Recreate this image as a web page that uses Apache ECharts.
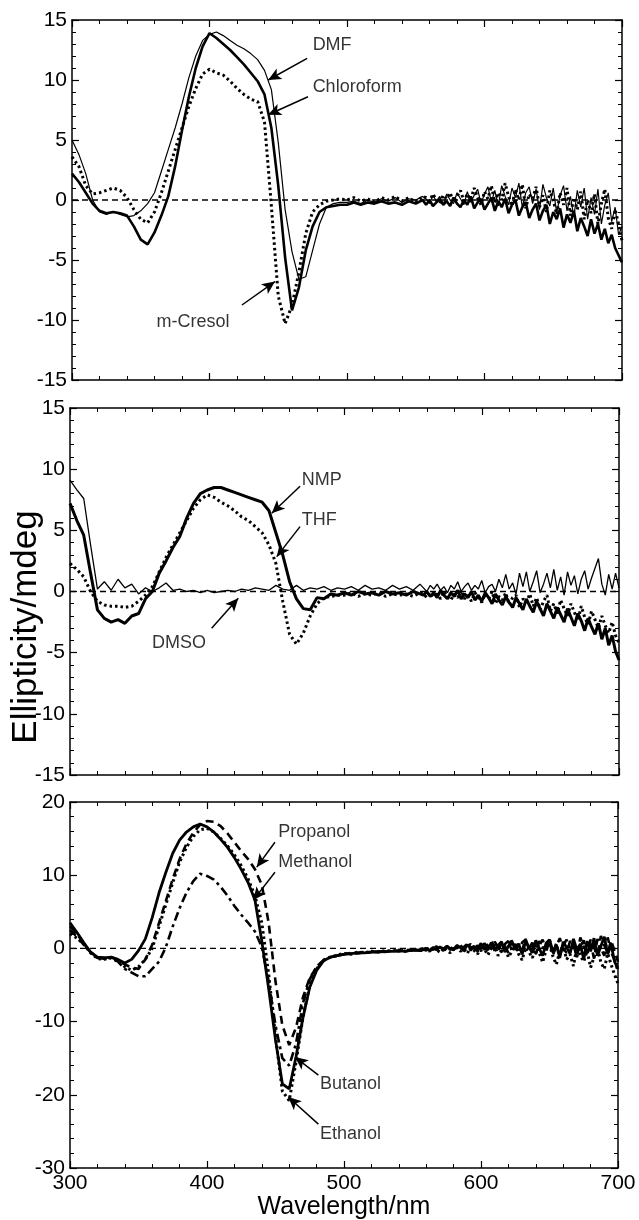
<!DOCTYPE html>
<html>
<head>
<meta charset="utf-8">
<script src="https://cdn.jsdelivr.net/npm/echarts@6/dist/echarts.min.js"></script>
<style>
  html, body { margin: 0; padding: 0; background: #fff; }
  #chart { width: 639px; height: 1220px; }
</style>
</head>
<body>
<div id="chart"></div>
<script>
// wavelength grid (nm), shared by every curve: 5 nm steps, 2.5 nm in the noisy tail
var wavelength = [
  300,305,310,315,320,325,330,335,340,345,
  350,355,360,365,370,375,380,385,390,395,
  400,405,410,415,420,425,430,435,440,445,
  450,455,460,465,470,475,480,485,490,495,
  500,505,510,515,520,525,530,535,540,545,
  550,555,
  557.5,560,562.5,565,567.5,570,572.5,575,
  577.5,580,582.5,585,587.5,590,592.5,595,
  597.5,600,602.5,605,607.5,610,612.5,615,
  617.5,620,622.5,625,627.5,630,632.5,635,
  637.5,640,642.5,645,647.5,650,652.5,655,
  657.5,660,662.5,665,667.5,670,672.5,675,
  677.5,680,682.5,685,687.5,690,692.5,695,
  697.5,700
];

// top panel
var dmf = [
  5.0, 3.8, 2.2, 0.0, -1.0, -1.2, -1.0, -1.2, -1.4, -1.3,
  -0.9, -0.3, 0.6, 2.4, 4.2, 6.0, 8.0, 10.2, 12.0, 13.3,
  13.8, 14.0, 13.7, 13.3, 12.9, 12.6, 12.2, 11.7, 10.8, 9.2,
  4.8, -0.8, -4.3, -6.6, -6.4, -4.2, -2.0, -0.6, -0.3, -0.2,
  -0.2, -0.1, -0.3, 0.0, -0.2, 0.1, -0.1, 0.2, -0.2, 0.1,
  0.0, 0.3,
  0.1, -0.3, 0.4, -0.1, 0.3, -0.4, 0.5, 0.0,
  -0.3, 0.6, 0.1, -0.4, 0.7, -0.2, 0.4, 0.9,
  -0.3, 0.5, 1.1, -0.2, 0.8, -0.5, 1.2, 0.3,
  -0.4, 1.0, 0.2, 1.4, -0.6, 0.6, 1.1, -0.3,
  0.9, -0.8, 1.3, 0.2, -0.5, 1.0, -1.1, 0.4,
  1.2, -0.9, 0.3, -1.4, 0.8, -0.6, 1.0, -1.6,
  0.2, -1.2, 0.9, -2.0, -0.4, 0.6, -1.8, -0.6,
  -2.9, -2.2
];
var chloroform = [
  2.2, 1.5, 0.6, -0.3, -0.9, -1.1, -1.0, -1.1, -1.3, -2.2,
  -3.3, -3.7, -2.7, -1.3, 0.3, 2.8, 5.8, 8.6, 11.0, 12.8,
  13.9, 13.5, 13.0, 12.5, 11.9, 11.3, 10.6, 9.9, 8.8, 6.0,
  1.2, -4.8, -9.2, -7.3, -4.2, -2.2, -1.0, -0.6, -0.5, -0.4,
  -0.4, -0.2, -0.4, -0.2, -0.3, -0.1, -0.3, -0.2, -0.4, -0.1,
  -0.3, 0.0,
  -0.4, 0.0, -0.5, -0.2, 0.1, -0.4, -0.1, -0.5,
  0.2, -0.3, -0.6, 0.0, -0.4, 0.3, -0.7, -0.2,
  0.1, -0.8, -0.3, 0.2, -0.9, -0.1, -0.6, 0.1,
  -1.1, -0.4, 0.0, -1.3, -0.6, -0.2, -1.5, -0.8,
  -0.3, -1.7, -0.9, -0.4, -2.0, -1.0, -1.6, -0.7,
  -2.3, -1.2, -1.9, -0.9, -2.6, -1.5, -2.2, -3.0,
  -1.6, -2.8, -2.0, -3.3, -2.4, -3.6, -2.9, -4.0,
  -4.6, -5.2
];
var mCresol = [
  3.6, 2.8, 1.2, 0.5, 0.6, 0.8, 1.0, 0.8, 0.2, -0.8,
  -1.6, -1.9, -1.0, 0.6, 2.4, 4.2, 6.0, 7.8, 9.3, 10.5,
  10.9, 10.6, 10.4, 9.9, 9.3, 8.8, 8.4, 8.2, 6.5, -0.5,
  -8.0, -10.3, -8.8, -6.0, -2.8, -1.0, -0.4, -0.1, 0.0, 0.1,
  0.0, 0.2, -0.1, 0.1, -0.2, 0.2, 0.0, 0.3, -0.1, 0.2,
  -0.2, 0.3,
  0.2, -0.1, 0.5, 0.0, -0.3, 0.4, 0.1, 0.6,
  -0.2, 0.3, 0.8, -0.1, 0.5, 0.0, 1.0, 0.2,
  -0.4, 0.7, 0.1, 1.2, -0.2, 0.6, 0.0, 1.4,
  0.3, -0.5, 0.9, 0.0, 1.3, -0.7, 0.5, 0.1,
  1.1, -0.6, 0.4, -1.0, 0.8, 0.0, -1.2, 0.6,
  -0.4, 1.0, -1.3, 0.2, -0.8, 0.7, -1.6, 0.0,
  -1.1, 0.5, -2.0, -0.3, 0.9, -1.5, -2.4, -0.8,
  -2.0, -3.4
];

// middle panel
var nmp = [
  7.2, 5.8, 4.6, 1.5, -1.5, -2.2, -2.5, -2.3, -2.6, -2.0,
  -1.8, -0.6, 0.0, 1.5, 2.5, 3.6, 4.5, 6.0, 7.2, 8.0,
  8.3, 8.5, 8.5, 8.3, 8.1, 7.9, 7.7, 7.5, 7.3, 6.6,
  4.8, 3.0, 0.8, -0.6, -1.4, -1.5, -0.5, -0.6, -0.2, -0.3,
  -0.1, -0.3, 0.0, -0.2, -0.1, -0.3, 0.0, -0.2, -0.1, -0.3,
  0.0, -0.2,
  -0.3, 0.0, -0.4, -0.1, -0.5, 0.1, -0.3, -0.6,
  -0.1, -0.4, 0.1, -0.6, -0.2, -0.5, 0.0, -0.7,
  -0.3, -0.8, -0.1, -0.5, -1.0, -0.2, -0.7, -1.1,
  -0.4, -0.9, -1.3, -0.5, -1.0, -1.5, -0.6, -1.2,
  -1.7, -0.8, -1.4, -2.0, -1.0, -1.6, -2.2, -1.3,
  -1.9, -2.5, -1.4, -2.1, -2.8, -1.8, -2.4, -3.2,
  -2.2, -2.9, -3.5, -2.6, -3.9, -3.0, -4.4, -3.6,
  -4.9, -5.6
];
var thf = [
  2.3, 1.8, 1.2, 0.0, -0.8, -1.1, -1.2, -1.2, -1.3, -1.2,
  -0.8, -0.3, 0.4, 1.6, 2.8, 3.8, 4.8, 5.8, 6.8, 7.5,
  7.9, 7.7, 7.3, 7.0, 6.6, 6.1, 5.8, 5.3, 4.8, 3.8,
  2.3, -0.8, -3.5, -4.3, -3.4, -2.0, -1.0, -0.5, -0.4, -0.3,
  -0.3, -0.1, -0.4, -0.2, -0.3, -0.1, -0.4, -0.2, -0.3, -0.2,
  -0.4, -0.1,
  -0.2, -0.5, -0.1, -0.4, -0.2, -0.6, 0.0, -0.4,
  -0.7, -0.2, -0.5, 0.1, -0.6, -0.3, -0.8, -0.1,
  -0.5, -0.9, -0.2, -0.6, 0.0, -1.0, -0.4, -0.7,
  -0.1, -1.1, -0.5, -0.3, -1.3, -0.6, -0.9, -0.2,
  -1.2, -0.5, -1.5, -0.8, -0.3, -1.6, -1.0, -1.8,
  -0.7, -1.4, -2.0, -1.0, -1.7, -2.4, -1.2, -2.1,
  -2.7, -1.6, -2.3, -3.0, -2.0, -2.8, -3.4, -2.5,
  -3.6, -4.2
];
var dmso = [
  9.1, 8.3, 7.6, 3.8, 0.2, 0.8, 0.1, 1.0, 0.3, 0.6,
  -0.2, 0.3, 0.0, 0.3, 0.7, 0.1, 0.2, 0.0, 0.1, -0.1,
  0.1, -0.1, 0.0, 0.1, 0.0, 0.2, 0.1, 0.3, 0.2, 0.1,
  0.5, 0.2, 0.1, 0.5, 0.1, 0.3, 0.2, 0.4, 0.1, 0.3,
  0.2, 0.4, 0.1, 0.5, 0.2, 0.3, 0.1, 0.5, 0.2, 0.4,
  0.1, 0.6,
  0.3, 0.0, 0.5, 0.2, 0.6, 0.1, 0.4, -0.1,
  0.5, 0.2, 0.8, 0.0, 0.4, 0.7, 0.1, 0.5,
  0.2, 0.9, -0.1, 0.4, 0.6, 0.0, 1.0, 0.3,
  1.4, 0.2, 0.7, -0.2, 1.5, 0.4, 1.6, 0.0,
  0.8, 1.7, -0.1, 0.6, 1.5, 0.3, 1.8, 0.1,
  1.2, -0.3, 1.6, 0.5, 1.3, -0.2, 1.0, 1.7,
  0.2, 1.1, 1.9, 2.7, 0.6, -0.3, 1.4, 0.2,
  1.5, 0.3
];

// bottom panel
var methanol = [
  3.5, 2.2, 0.8, -0.5, -1.2, -1.3, -1.2, -1.5, -2.0, -1.5,
  -0.3, 1.3, 4.2, 7.6, 10.4, 13.0, 14.8, 15.9, 16.6, 17.0,
  16.6, 15.9, 14.9, 13.8, 12.4, 10.8, 9.0, 6.6, 1.0, -5.5,
  -12.5, -18.5, -19.2, -14.8, -9.5, -5.3, -3.0, -1.7, -1.2, -1.0,
  -0.8, -0.7, -0.6, -0.6, -0.5, -0.5, -0.4, -0.4, -0.3, -0.4,
  -0.2, -0.3,
  -0.2, 0.0, -0.3, 0.1, -0.2, 0.2, -0.1, 0.3,
  0.0, -0.2, 0.4, 0.1, -0.3, 0.5, 0.0, 0.3,
  -0.4, 0.6, 0.1, -0.2, 0.8, -0.3, 0.4, 0.9,
  -0.5, 0.3, 1.0, -0.2, 0.6, -0.8, 0.9, 0.2,
  -0.6, 1.1, 0.0, -1.0, 0.7, 1.2, -0.4, 0.5,
  -1.3, 0.9, 0.1, -0.7, 1.3, -0.2, 0.6, -1.5,
  1.0, -0.4, 1.4, -1.0, 0.3, 1.6, -0.8, 0.5,
  -1.8, -2.8
];
var propanol = [
  2.5, 1.6, 0.5, -0.5, -1.2, -1.3, -1.2, -1.6, -2.2, -2.6,
  -2.8, -1.5, 0.5, 3.5, 6.5, 9.5, 12.2, 14.3, 15.8, 16.9,
  17.4, 17.3, 16.7, 15.7, 14.5, 13.3, 12.2, 10.8, 8.7, 3.5,
  -4.5, -10.5, -13.2, -10.8, -6.7, -4.0, -2.6, -1.7, -1.2, -1.0,
  -0.8, -0.6, -0.7, -0.5, -0.5, -0.4, -0.5, -0.3, -0.4, -0.2,
  -0.3, -0.1,
  -0.1, -0.3, 0.1, -0.2, 0.2, 0.0, -0.3, 0.3,
  0.1, -0.2, 0.4, -0.1, 0.2, 0.6, -0.3, 0.4,
  0.0, 0.7, -0.2, 0.5, 1.0, 0.1, -0.4, 0.8,
  0.3, -0.6, 1.1, 0.2, 0.6, -0.3, 1.3, 0.0,
  0.8, -0.7, 0.4, 1.2, -0.2, 0.9, -0.9, 0.3,
  1.4, 0.0, -0.6, 1.0, 0.4, -1.1, 1.5, 0.2,
  -0.5, 1.2, 0.1, -0.9, 1.7, 0.4, -0.6, 1.1,
  -0.4, -1.8
];
var ethanol = [
  2.0, 1.4, 0.6, -0.6, -1.4, -1.5, -1.3, -1.8, -2.5, -3.0,
  -2.5, -1.5, 0.0, 3.0, 6.0, 9.0, 11.8, 13.8, 15.3, 16.2,
  16.4, 15.9, 15.0, 14.0, 12.8, 11.3, 9.5, 7.2, 3.5, -3.5,
  -12.0, -19.5, -20.8, -15.5, -9.5, -5.0, -2.8, -1.6, -1.2, -0.9,
  -0.7, -0.8, -0.5, -0.6, -0.4, -0.5, -0.3, -0.4, -0.2, -0.4,
  -0.1, -0.3,
  -0.3, 0.0, -0.4, 0.1, -0.2, -0.5, 0.2, -0.3,
  -0.6, 0.0, 0.3, -0.4, -0.1, -0.7, 0.2, -0.3,
  -0.8, 0.4, -0.1, -0.9, 0.0, 0.5, -1.0, -0.3,
  0.3, -1.2, -0.4, 0.6, -0.8, -1.6, 0.1, -0.5,
  -1.3, 0.4, -0.6, -1.9, -0.2, 0.5, -1.1, -2.2,
  -0.4, 0.3, -1.5, -0.8, -2.4, 0.2, -1.0, -1.8,
  -0.3, -2.6, -1.2, 0.1, -1.9, -2.8, -0.7, -2.2,
  -3.6, -4.8
];
var butanol = [
  3.0, 2.0, 0.7, -0.6, -1.3, -1.4, -1.3, -1.8, -2.8, -3.3,
  -3.8, -3.8, -2.8, -1.8, 0.2, 3.0, 5.5, 7.6, 9.2, 10.2,
  9.9, 9.4, 8.4, 7.2, 5.8, 4.6, 3.5, 2.3, 0.2, -4.5,
  -10.5, -15.0, -16.0, -13.0, -7.5, -4.2, -2.5, -1.6, -1.2, -1.0,
  -0.8, -0.7, -0.6, -0.5, -0.6, -0.4, -0.4, -0.3, -0.4, -0.2,
  -0.3, -0.2,
  0.0, -0.2, 0.2, -0.1, 0.3, -0.3, 0.1, 0.4,
  -0.2, 0.3, 0.0, 0.5, -0.3, 0.2, 0.6, -0.1,
  0.4, -0.4, 0.7, 0.1, -0.2, 0.9, 0.2, -0.5,
  0.6, 1.0, -0.3, 0.4, -0.6, 0.8, 1.2, -0.2,
  0.5, -0.8, 1.0, 0.2, -0.4, 1.3, -0.6, 0.7,
  -1.0, 0.4, 1.2, -0.5, 0.9, -1.2, 0.3, 1.1,
  -0.7, 0.8, -1.4, 1.3, 0.0, -1.0, 1.5, -0.5,
  -1.6, -3.2
];

var topLabels = ['DMF', 'Chloroform', 'm-Cresol'];
var midLabels = ['NMP', 'THF', 'DMSO'];
var botLabels = ['Propanol', 'Methanol', 'Butanol', 'Ethanol'];

var FONT = '"Liberation Sans", Arial, sans-serif';

function pairs(ys) {
  if (ys.length !== wavelength.length) console.error('length mismatch', ys.length);
  return wavelength.map(function (w, i) { return [w, ys[i]]; });
}

function xAxes(gi, withLabels) {
  var base = {
    type: 'value', gridIndex: gi, min: 300, max: 700, interval: 100,
    axisLine: { show: true, onZero: false, lineStyle: { color: '#000', width: 1.5 } },
    axisTick: { show: true, inside: true, length: 7, lineStyle: { color: '#000', width: 1.2 } },
    minorTick: { show: true, splitNumber: 5, length: 4, lineStyle: { color: '#000', width: 1 } },
    splitLine: { show: false }
  };
  var bottom = Object.assign({}, base, {
    position: 'bottom',
    axisLabel: { show: withLabels, fontSize: 21, color: '#000', fontFamily: FONT, margin: 5 }
  });
  if (withLabels) {
    bottom.name = 'Wavelength/nm';
    bottom.nameLocation = 'middle';
    bottom.nameGap = 24;
    bottom.nameTextStyle = { fontSize: 25, color: '#000', fontFamily: FONT };
  }
  var top = Object.assign({}, base, { position: 'top', axisLabel: { show: false } });
  return [bottom, top];
}

function yAxes(gi, min, max, step) {
  var base = {
    type: 'value', gridIndex: gi, min: min, max: max, interval: step,
    axisLine: { show: true, onZero: false, lineStyle: { color: '#000', width: 1.5 } },
    axisTick: { show: true, inside: true, length: 7, lineStyle: { color: '#000', width: 1.2 } },
    minorTick: { show: true, splitNumber: 5, length: 4, lineStyle: { color: '#000', width: 1 } },
    splitLine: { show: false }
  };
  var left = Object.assign({}, base, {
    position: 'left',
    axisLabel: { show: true, fontSize: 21, color: '#000', fontFamily: FONT, margin: 5 }
  });
  var right = Object.assign({}, base, { position: 'right', axisLabel: { show: false } });
  return [left, right];
}

function curve(name, gi, ys, width, dash) {
  return {
    name: name, type: 'line', xAxisIndex: gi * 2, yAxisIndex: gi * 2,
    data: pairs(ys), showSymbol: false, symbol: 'none', silent: true,
    lineStyle: { color: '#000', width: width, type: dash || 'solid' }, z: 3
  };
}

// dashed zero line plus the arrows of one panel
function baseline(gi, arrows) {
  return {
    type: 'line', xAxisIndex: gi * 2, yAxisIndex: gi * 2,
    data: [[300, 0], [700, 0]], showSymbol: false, symbol: 'none', silent: true,
    lineStyle: { color: '#000', width: 1.3, type: [6, 4] }, z: 2,
    markLine: {
      silent: true, symbol: ['none', 'arrow'], symbolSize: [9, 13],
      label: { show: false },
      lineStyle: { color: '#000', width: 1.5, type: 'solid' },
      data: arrows.map(function (a) { return [{ coord: [a[0], a[1]] }, { coord: [a[2], a[3]] }]; })
    }
  };
}

function labels(gi, names, spots) {
  return {
    type: 'scatter', xAxisIndex: gi * 2, yAxisIndex: gi * 2, silent: true,
    symbolSize: 0,
    data: names.map(function (n, i) { return [spots[i][0], spots[i][1], n]; }),
    label: {
      show: true, position: 'right', distance: 0, color: '#000',
      fontSize: 18, fontFamily: FONT,
      formatter: function (p) { return p.value[2]; }
    }
  };
}

var chart = echarts.init(document.getElementById('chart'));
chart.setOption({
  animation: false,
  backgroundColor: '#fff',
  grid: [
    { left: 72, top: 20, width: 550, height: 360, outerBoundsMode: 'none' },
    { left: 70, top: 408, width: 549, height: 367, outerBoundsMode: 'none' },
    { left: 70, top: 802, width: 548, height: 366, outerBoundsMode: 'none' }
  ],
  xAxis: [].concat(xAxes(0, false), xAxes(1, false), xAxes(2, true)),
  yAxis: [].concat(yAxes(0, -15, 15, 5), yAxes(1, -15, 15, 5), yAxes(2, -30, 20, 10)),
  graphic: [{
    type: 'text', x: 26, y: 627,
    rotation: Math.PI / 2,
    style: {
      text: 'Ellipticity/mdeg', fontSize: 35, fontFamily: FONT, fill: '#000',
      align: 'center', verticalAlign: 'middle',
      textAlign: 'center', textVerticalAlign: 'middle'
    }
  }],
  series: [
    baseline(0, [[471, 11.8, 442.7, 10], [471.6, 8.6, 442.7, 7.1], [423.6, -8.75, 447.6, -6.8]]),
    curve('DMF', 0, dmf, 1.2),
    curve('Chloroform', 0, chloroform, 2.6),
    curve('m-Cresol', 0, mCresol, 3, [2.5, 3]),
    labels(0, topLabels, [[475, 12.9], [475, 9.4], [361.5, -10.2]]),

    baseline(1, [[467.6, 8.6, 447, 6.4], [467.6, 5.3, 450.6, 2.85], [403.2, -3.0, 422.6, -0.56]]),
    curve('NMP', 1, nmp, 3),
    curve('THF', 1, thf, 3, [2.5, 3]),
    curve('DMSO', 1, dmso, 1.3),
    labels(1, midLabels, [[468.8, 9.1], [468.8, 5.85], [359.7, -4.2]]),

    baseline(2, [[449.6, 14.5, 436.3, 11.1], [449.6, 10.4, 433.8, 6.6], [481.3, -17.3, 464.2, -14.85], [481.3, -24, 459.3, -20.3]]),
    curve('Methanol', 2, methanol, 2.8),
    curve('Propanol', 2, propanol, 2.6, [8, 5]),
    curve('Ethanol', 2, ethanol, 3, [2.5, 3]),
    curve('Butanol', 2, butanol, 2.6, [9, 4, 3, 4]),
    labels(2, botLabels, [[452, 15.9], [452, 11.8], [482.5, -18.5], [482.5, -25.3]])
  ]
});
</script>
</body>
</html>
